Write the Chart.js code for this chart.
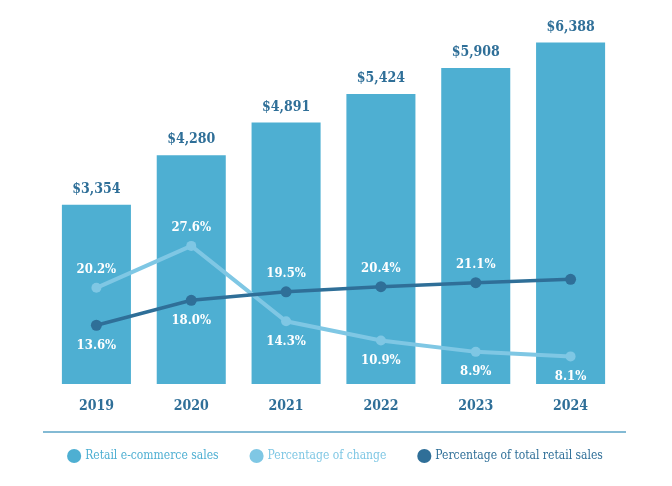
<!DOCTYPE html>
<html>
<head>
<meta charset="utf-8">
<script src="https://cdn.jsdelivr.net/npm/chart.js@4/dist/chart.umd.min.js"></script>
<style>
  html, body { margin: 0; padding: 0; background: #ffffff; }
  #wrap { width: 672px; height: 486px; }
</style>
</head>
<body>
<div id="wrap"><canvas id="c" width="672" height="486"></canvas></div>
<script>
const years = ['2019', '2020', '2021', '2022', '2023', '2024'];
const ecommerceSales = [3354, 4280, 4891, 5424, 5908, 6388];
const pctChange = [20.2, 27.6, 14.3, 10.9, 8.9, 8.1];
const pctOfTotal = [13.6, 18.0, 19.5, 20.4, 21.1, 21.7];
const seriesNames = ['Retail e-commerce sales', 'Percentage of change', 'Percentage of total retail sales'];

const BAR = '#4eafd2';
const LIGHT = '#7fc7e4';
const DARK = '#2f6f98';
const FONT = '"Roboto Slab", "DejaVu Serif Condensed", "DejaVu Serif", serif';

const labelPlugin = {
  id: 'valueLabels',
  afterDatasetsDraw(chart) {
    const ctx = chart.ctx;
    ctx.save();
    ctx.textAlign = 'center';
    ctx.textBaseline = 'middle';
    const barMeta = chart.getDatasetMeta(0);
    ctx.fillStyle = DARK;
    ctx.font = 'bold 14px ' + FONT;
    barMeta.data.forEach((el, i) => {
      const v = chart.data.datasets[0].data[i];
      ctx.fillText('$' + v.toLocaleString('en-US'), el.x, el.y - 15.5);
    });
    ctx.fillStyle = '#ffffff';
    ctx.font = 'bold 13px ' + FONT;
    [1, 2].forEach(di => {
      const ds = chart.data.datasets[di];
      const other = chart.data.datasets[di === 1 ? 2 : 1].data;
      const meta = chart.getDatasetMeta(di);
      meta.data.forEach((el, i) => {
        if (ds.hideLabelAt && ds.hideLabelAt.includes(i)) return;
        const v = ds.data[i];
        const above = v >= other[i];
        ctx.fillText(v.toFixed(1) + '%', el.x, el.y + (above ? -18 : 20));
      });
    });
    ctx.restore();
  }
};

const separatorPlugin = {
  id: 'legendSeparator',
  afterDraw(chart) {
    const l = chart.legend;
    const a = chart.chartArea;
    const ctx = chart.ctx;
    ctx.save();
    ctx.strokeStyle = '#5aa3c6';
    ctx.lineWidth = 1.5;
    ctx.beginPath();
    ctx.moveTo(a.left - 6, l.top + 15);
    ctx.lineTo(a.right + 8, l.top + 15);
    ctx.stroke();
    ctx.restore();
  }
};

new Chart(document.getElementById('c'), {
  data: {
    labels: years,
    datasets: [
      {
        type: 'bar', label: seriesNames[0], data: ecommerceSales,
        backgroundColor: BAR, yAxisID: 'y', order: 3,
        categoryPercentage: 0.728, barPercentage: 1,
        legendColor: BAR
      },
      {
        type: 'line', label: seriesNames[1], data: pctChange,
        borderColor: LIGHT, backgroundColor: LIGHT, borderWidth: 4,
        pointRadius: 5, pointHoverRadius: 5, pointBorderWidth: 0,
        yAxisID: 'y1', order: 2, tension: 0,
        legendColor: LIGHT
      },
      {
        type: 'line', label: seriesNames[2], data: pctOfTotal,
        borderColor: DARK, backgroundColor: DARK, borderWidth: 3.5,
        pointRadius: 5.5, pointHoverRadius: 5.5, pointBorderWidth: 0,
        yAxisID: 'y1', order: 1, tension: 0,
        hideLabelAt: [5],
        legendColor: DARK
      }
    ]
  },
  options: {
    responsive: false,
    animation: false,
    layout: { padding: { left: 0, right: 0, top: 30, bottom: 14 } },
    scales: {
      x: {
        grid: { display: false, drawTicks: false },
        border: { display: false },
        ticks: { color: DARK, font: { family: FONT, size: 14, weight: 'bold' }, padding: 14 },
        afterFit(s) { s.height = 33; }
      },
      y: {
        position: 'left', min: 0, max: 6620,
        grid: { display: false, drawTicks: false },
        border: { display: false },
        ticks: { display: false },
        afterFit(s) { s.width = 49; }
      },
      y1: {
        position: 'right', min: 3.23, max: 65.7,
        grid: { display: false, drawTicks: false },
        border: { display: false },
        ticks: { display: false },
        afterFit(s) { s.width = 54; }
      }
    },
    plugins: {
      tooltip: { enabled: false },
      legend: {
        position: 'bottom',
        maxHeight: 60,
        labels: {
          usePointStyle: true,
          pointStyle: 'circle',
          boxWidth: 10,
          boxHeight: 10,
          padding: 33,
          font: { family: FONT, size: 12 },
          generateLabels(chart) {
            return chart.data.datasets.map((ds, i) => ({
              text: ds.label,
              fillStyle: ds.legendColor,
              strokeStyle: ds.legendColor,
              fontColor: ds.legendColor,
              lineWidth: 0,
              pointStyle: 'circle',
              hidden: false,
              datasetIndex: i
            }));
          }
        }
      }
    }
  },
  plugins: [labelPlugin, separatorPlugin]
});
</script>
</body>
</html>
